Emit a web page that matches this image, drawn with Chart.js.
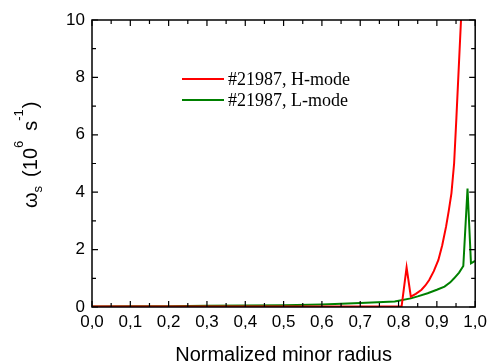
<!DOCTYPE html>
<html>
<head>
<meta charset="utf-8">
<script src="https://cdn.jsdelivr.net/npm/chart.js@4/dist/chart.umd.min.js"></script>
<style>
  html, body { margin: 0; padding: 0; background: #fff; }
  #wrap { width: 492px; height: 363px; }
</style>
</head>
<body>
<div id="wrap"><canvas id="chart" width="492" height="363"></canvas></div>
<script>
// данные
const hRadius = [0, 0.1, 0.2, 0.3, 0.4, 0.5, 0.6, 0.7, 0.808, 0.821, 0.832, 0.845, 0.86, 0.87, 0.88, 0.892, 0.904, 0.914, 0.924, 0.931, 0.938, 0.945, 0.951, 0.963];
const hOmega  = [0.02, 0.02, 0.02, 0.02, 0.02, 0.02, 0.02, 0.02, 0.02, 1.38, 0.36, 0.46, 0.6, 0.75, 0.94, 1.25, 1.64, 2.15, 2.8, 3.35, 3.96, 5.0, 6.6, 10.0];

const lRadius = [0, 0.1, 0.2, 0.3, 0.4, 0.5, 0.6, 0.7, 0.79, 0.832, 0.85, 0.876, 0.9, 0.92, 0.935, 0.945, 0.958, 0.969, 0.98, 0.989, 1.0];
const lOmega  = [0.02, 0.03, 0.03, 0.04, 0.05, 0.06, 0.09, 0.14, 0.19, 0.3, 0.37, 0.48, 0.6, 0.71, 0.86, 1.0, 1.2, 1.43, 4.13, 1.52, 1.61];

const seriesLabels = ['#21987, H-mode', '#21987, L-mode'];
const seriesColors = ['#ff0000', '#008000'];

const xTitle = 'Normalized minor radius';

const toPts = (xs, ys) => xs.map((x, i) => ({ x: x, y: ys[i] }));

// рамка с внутренними засечками, легенда и подписи осей
const framePlugin = {
    id: 'frame',
    afterDraw(chart) {
        const ctx = chart.ctx;
        const a = chart.chartArea;
        const xs = chart.scales.x, ys = chart.scales.y;
        ctx.save();
        ctx.strokeStyle = '#000';
        ctx.lineWidth = 1.5;
        ctx.strokeRect(a.left, a.top, a.right - a.left, a.bottom - a.top);

        ctx.lineWidth = 1.2;
        ctx.beginPath();
        for (let i = 0; i <= 20; i++) {
            const px = xs.getPixelForValue(i * 0.05);
            const len = i % 2 === 0 ? 6 : 4;
            ctx.moveTo(px, a.bottom); ctx.lineTo(px, a.bottom - len);
            ctx.moveTo(px, a.top); ctx.lineTo(px, a.top + len);
        }
        for (let v = 0; v <= 10; v++) {
            const py = ys.getPixelForValue(v);
            const len = v % 2 === 0 ? 6 : 4;
            ctx.moveTo(a.left, py); ctx.lineTo(a.left + len, py);
            ctx.moveTo(a.right, py); ctx.lineTo(a.right - len, py);
        }
        ctx.stroke();

        // легенда
        ctx.font = '18px "Liberation Serif", "Times New Roman", serif';
        ctx.textBaseline = 'alphabetic';
        ctx.fillStyle = '#000';
        ctx.lineWidth = 2;
        [79, 100].forEach((ly, i) => {
            ctx.strokeStyle = seriesColors[i];
            ctx.beginPath();
            ctx.moveTo(182, ly); ctx.lineTo(224, ly);
            ctx.stroke();
            ctx.fillText(seriesLabels[i], 228, ly + 5.5);
        });

        // подпись оси X
        ctx.font = '20px "Liberation Sans", Arial, sans-serif';
        ctx.textAlign = 'center';
        ctx.fillText(xTitle, (a.left + a.right) / 2, 361);

        // подпись оси Y: ω_s (10^6 s^-1)
        ctx.translate(37, 208);
        ctx.rotate(-Math.PI / 2);
        ctx.textAlign = 'left';
        const big = '20px "Liberation Sans", Arial, sans-serif';
        const small = '13px "Liberation Sans", Arial, sans-serif';
        const parts = [
            // текст, шрифт, сдвиг базовой линии, отступ перед
            ['\u03c9', big, 0, 0],
            ['s', small, 5, 0],
            ['(10', big, 0, 9],
            ['6', small, -14, 0],
            ['s', big, 0, 10],
            ['-1', small, -14, 0],
            [')', big, 0, 1]
        ];
        let pos = 0;
        parts.forEach(([t, f, dy, gap]) => {
            pos += gap;
            ctx.font = f;
            ctx.fillText(t, pos, dy);
            pos += ctx.measureText(t).width;
        });
        ctx.restore();
    }
};

new Chart(document.getElementById('chart'), {
    type: 'scatter',
    data: {
        datasets: [
            {
                label: seriesLabels[0],
                data: toPts(hRadius, hOmega),
                showLine: true,
                borderColor: seriesColors[0],
                borderWidth: 2,
                pointRadius: 0,
                tension: 0
            },
            {
                label: seriesLabels[1],
                data: toPts(lRadius, lOmega),
                showLine: true,
                borderColor: seriesColors[1],
                borderWidth: 2,
                pointRadius: 0,
                tension: 0
            }
        ]
    },
    options: {
        responsive: false,
        animation: false,
        layout: { padding: { top: 20, right: 15.5, left: 0, bottom: 0 } },
        plugins: {
            legend: { display: false },
            tooltip: { enabled: false }
        },
        scales: {
            x: {
                type: 'linear',
                min: 0, max: 1,
                grid: { display: false, drawTicks: false },
                border: { display: false },
                ticks: {
                    stepSize: 0.1,
                    color: '#000',
                    padding: 5,
                    maxRotation: 0,
                    font: { size: 17, family: '"Liberation Sans", Arial, sans-serif' },
                    callback: v => v.toFixed(1).replace('.', ',')
                },
                afterFit: s => { s.height = 56; }
            },
            y: {
                type: 'linear',
                min: 0, max: 10,
                grid: { display: false, drawTicks: false },
                border: { display: false },
                ticks: {
                    stepSize: 2,
                    color: '#000',
                    padding: 7,
                    font: { size: 17, family: '"Liberation Sans", Arial, sans-serif' }
                },
                afterFit: s => { s.width = 92; }
            }
        }
    },
    plugins: [framePlugin]
});
</script>
</body>
</html>
